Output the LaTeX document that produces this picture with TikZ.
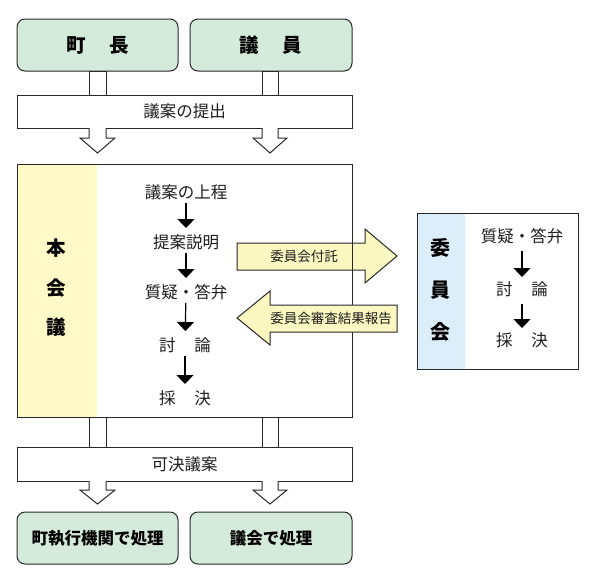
\documentclass[tikz,border=0pt]{standalone}
\usepackage{fontspec}
\setmainfont{Noto Sans CJK JP}
\usetikzlibrary{arrows.meta}
\definecolor{boxgreen}{RGB}{212,235,220}
\definecolor{stripyellow}{RGB}{255,250,200}
\definecolor{arrowyellow}{RGB}{250,247,192}
\definecolor{stripblue}{RGB}{220,238,250}
\definecolor{linegray}{RGB}{40,40,40}
\definecolor{textgray}{RGB}{30,30,30}
\tikzset{
  gbox/.style={draw=linegray,line width=1pt,fill=boxgreen,rounded corners=8pt},
  plain/.style={draw=linegray,line width=1pt,fill=white},
  hollow/.style={draw=linegray,line width=1pt,fill=white},
  fatarrow/.style={draw=linegray,line width=1pt,fill=arrowyellow},
  txt/.style={inner sep=0pt,font=\fontsize{16.5}{18}\selectfont,text=textgray},
  lbl/.style={inner sep=0pt,font=\fontsize{13.5}{15}\selectfont,text=textgray},
  btxt/.style={inner sep=0pt,font=\bfseries\fontsize{16.5}{18}\selectfont,text=black},
  btop/.style={inner sep=0pt,font=\bfseries\fontsize{19.5}{21}\selectfont,text=black},
  flow/.style={draw=black,line width=1.2pt,-{Triangle[width=17pt,length=9pt]}},
}
\begin{document}
\begin{tikzpicture}[x=1pt,y=-1pt]
\useasboundingbox (0,0) rectangle (599,582);
% top boxes
\draw[gbox] (17,19) rectangle (178,71);
\draw[gbox] (190,19) rectangle (352,71);
\node[btop] (chocho) at (97.5,45.5) {町\hspace{24pt}長};
\node[btop] (giin) at (271,45.5) {議\hspace{24pt}員};
% stems to bar
\draw[hollow] (89,71) rectangle (106,95);
\draw[hollow] (262,71) rectangle (278,95);
% bar 1
\draw[plain] (17,95) rectangle (352,128);
\node[txt] (teishutsu) at (184.5,111.5) {議案の提出};
% down arrows
\draw[hollow] (89,128) -- (89,138) -- (80,138) -- (97.5,153) -- (115,138) -- (106,138) -- (106,128);
\draw[hollow] (262,128) -- (262,138) -- (253,138) -- (270,153) -- (287,138) -- (278,138) -- (278,128);
% main box
\draw[fill=white,draw=none] (17,164) rectangle (352,417);
\fill[stripyellow] (17,164) rectangle (97,417);
\node[btop] (hon) at (56,248) {本};
\node[btop] (kai) at (56,288) {会};
\node[btop] (gi) at (56,327) {議};
\node[txt] (m1) at (186,192) {議案の上程};
\node[txt] (m2) at (186,242) {提案説明};
\node[txt] (m3) at (186,292) {質疑・答弁};
\node[txt] (m4) at (185,345) {討\hspace{19pt}論};
\node[txt] (m5) at (185,398) {採\hspace{19pt}決};
\foreach \a/\b in {m1/m2,m2/m3,m3/m4,m4/m5}
  \draw[flow,shorten <=11pt,shorten >=14pt] (\a.center) -- (\b.center);
% arrow to committee (under the box edge)
\draw[fatarrow] (237,243) -- (365,243) -- (365,229) -- (397,256) -- (365,283) -- (365,270) -- (237,270) -- cycle;
\draw[draw=linegray,line width=1pt] (17,164) rectangle (352,417);
\node[lbl] (futaku) at (304,256) {委員会付託};
% arrow back
\draw[fatarrow] (397,305) -- (270,305) -- (270,291) -- (237,318) -- (270,345) -- (270,332) -- (397,332) -- cycle;
\node[lbl] (hokoku) at (331,318) {委員会審査結果報告};
% committee box
\fill[white] (417,213) rectangle (578,369);
\fill[stripblue] (417,213) rectangle (465,369);
\draw[draw=linegray,line width=1pt] (417,213) rectangle (578,369);
\node[inner sep=0pt,font=\bfseries\fontsize{20}{22}\selectfont] (i1) at (440,248) {委};
\node[inner sep=0pt,font=\bfseries\fontsize{20}{22}\selectfont] (i2) at (440,290) {員};
\node[inner sep=0pt,font=\bfseries\fontsize{20}{22}\selectfont] (i3) at (440,332) {会};
\node[txt] (c1) at (522,236) {質疑・答弁};
\node[txt] (c2) at (522,289) {討\hspace{19pt}論};
\node[txt] (c3) at (522,340) {採\hspace{19pt}決};
\foreach \a/\b in {c1/c2,c2/c3}
  \draw[flow,shorten <=15pt,shorten >=12pt] (\a.center) -- (\b.center);
% stems down
\draw[hollow] (89,417) rectangle (106,447);
\draw[hollow] (262,417) rectangle (278,447);
\draw[plain] (17,447) rectangle (352,481);
\node[txt] (kaketsu) at (184.5,464) {可決議案};
\draw[hollow] (89,481) -- (89,490) -- (80,490) -- (97.5,504) -- (115,490) -- (106,490) -- (106,481);
\draw[hollow] (262,481) -- (262,490) -- (253,490) -- (270,504) -- (287,490) -- (278,490) -- (278,481);
% bottom boxes
\draw[gbox] (17,512) rectangle (178,564);
\draw[gbox] (190,512) rectangle (352,564);
\node[btxt] (shikko) at (97.5,538) {町執行機関で処理};
\node[btxt] (gikai) at (271,538) {議会で処理};
\end{tikzpicture}
\end{document}
